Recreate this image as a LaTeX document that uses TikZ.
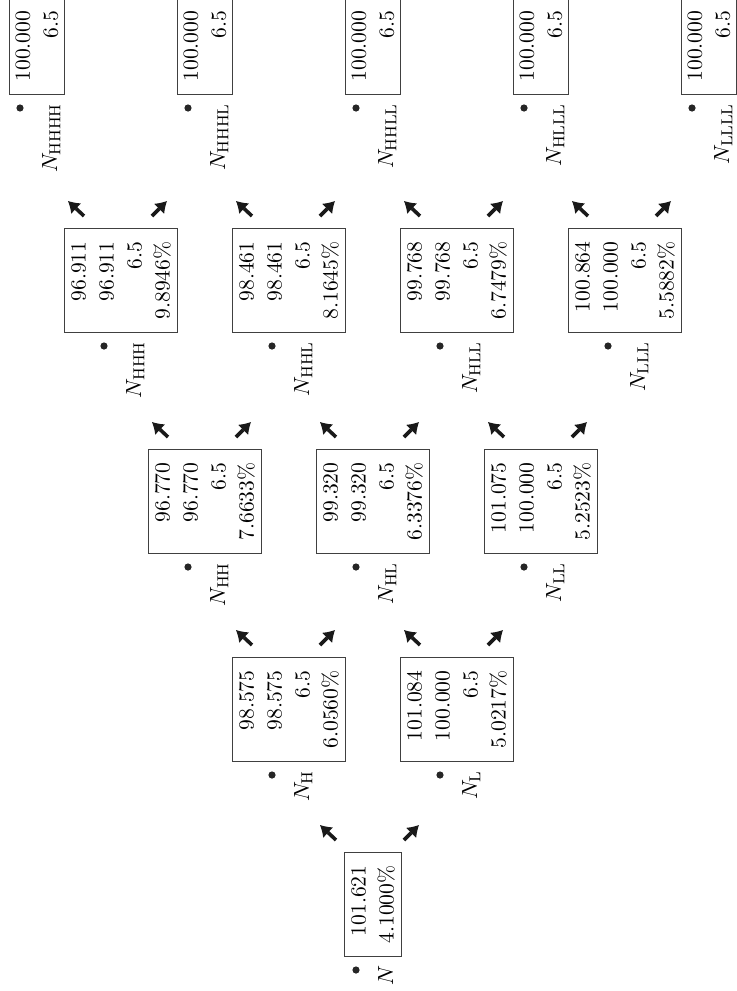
\documentclass[tikz,border=0pt]{standalone}
\usepackage{tikz}
\usetikzlibrary{arrows.meta}
\tikzstyle{val} = [draw=black!75, line width=0.5pt, rotate=90, anchor=west, align=right, inner xsep=6.5pt, inner ysep=3.2pt, font=\fontsize{10.8}{14}\selectfont]
\tikzstyle{lbl} = [rotate=90, anchor=base east, inner sep=0pt, font=\fontsize{10.8}{14}\selectfont]
\tikzstyle{dot} = [circle, fill=black!85, inner sep=0pt, minimum size=3.6pt]
\tikzstyle{br} = [style={-{Latex[length=5.5pt,width=7pt,line width=0pt]},line width=1.8pt,black!90}]

\begin{document}
\begin{tikzpicture}[x=0.5pt,y=-0.5pt]
    \useasboundingbox (0,0) rectangle (736,991);
    \begin{scope}
      \node[val] (n) at (373,957) {101.621\\4.1000\%};
      \node[val] (h) at (289,762) {98.575\\98.575\\6.5\\6.0560\%};
      \node[val] (l) at (457,762) {101.084\\100.000\\6.5\\5.0217\%};
      \node[val] (hh) at (205,554) {96.770\\96.770\\6.5\\7.6633\%};
      \node[val] (hl) at (373,554) {99.320\\99.320\\6.5\\6.3376\%};
      \node[val] (ll) at (541,554) {101.075\\100.000\\6.5\\5.2523\%};
      \node[val] (hhh) at (121,333) {96.911\\96.911\\6.5\\9.8946\%};
      \node[val] (hhl) at (289,333) {98.461\\98.461\\6.5\\8.1645\%};
      \node[val] (hll) at (457,333) {99.768\\99.768\\6.5\\6.7479\%};
      \node[val] (lll) at (625,333) {100.864\\100.000\\6.5\\5.5882\%};
      \node[val] (hhhh) at (37,95) {100.000\\6.5};
      \node[val] (hhhl) at (205,95) {100.000\\6.5};
      \node[val] (hhll) at (373,95) {100.000\\6.5};
      \node[val] (hlll) at (541,95) {100.000\\6.5};
      \node[val] (llll) at (709,95) {100.000\\6.5};

      \node[dot] (n-d) at ([shift={(-17,13)}]n.west) {};
      \node[dot] (h-d) at ([shift={(-17,13)}]h.west) {};
      \node[dot] (l-d) at ([shift={(-17,13)}]l.west) {};
      \node[dot] (hh-d) at ([shift={(-17,13)}]hh.west) {};
      \node[dot] (hl-d) at ([shift={(-17,13)}]hl.west) {};
      \node[dot] (ll-d) at ([shift={(-17,13)}]ll.west) {};
      \node[dot] (hhh-d) at ([shift={(-17,13)}]hhh.west) {};
      \node[dot] (hhl-d) at ([shift={(-17,13)}]hhl.west) {};
      \node[dot] (hll-d) at ([shift={(-17,13)}]hll.west) {};
      \node[dot] (lll-d) at ([shift={(-17,13)}]lll.west) {};
      \node[dot] (hhhh-d) at ([shift={(-17,13)}]hhhh.west) {};
      \node[dot] (hhhl-d) at ([shift={(-17,13)}]hhhl.west) {};
      \node[dot] (hhll-d) at ([shift={(-17,13)}]hhll.west) {};
      \node[dot] (hlll-d) at ([shift={(-17,13)}]hlll.west) {};
      \node[dot] (llll-d) at ([shift={(-17,13)}]llll.west) {};

      \node[lbl] (n-t) at ([shift={(20,8)}]n.west) {$N$};
      \node[lbl] (h-t) at ([shift={(20,8)}]h.west) {$N_{\mathrm{H}}$};
      \node[lbl] (l-t) at ([shift={(20,8)}]l.west) {$N_{\mathrm{L}}$};
      \node[lbl] (hh-t) at ([shift={(20,8)}]hh.west) {$N_{\mathrm{HH}}$};
      \node[lbl] (hl-t) at ([shift={(20,8)}]hl.west) {$N_{\mathrm{HL}}$};
      \node[lbl] (ll-t) at ([shift={(20,8)}]ll.west) {$N_{\mathrm{LL}}$};
      \node[lbl] (hhh-t) at ([shift={(20,8)}]hhh.west) {$N_{\mathrm{HHH}}$};
      \node[lbl] (hhl-t) at ([shift={(20,8)}]hhl.west) {$N_{\mathrm{HHL}}$};
      \node[lbl] (hll-t) at ([shift={(20,8)}]hll.west) {$N_{\mathrm{HLL}}$};
      \node[lbl] (lll-t) at ([shift={(20,8)}]lll.west) {$N_{\mathrm{LLL}}$};
      \node[lbl] (hhhh-t) at ([shift={(20,8)}]hhhh.west) {$N_{\mathrm{HHHH}}$};
      \node[lbl] (hhhl-t) at ([shift={(20,8)}]hhhl.west) {$N_{\mathrm{HHHL}}$};
      \node[lbl] (hhll-t) at ([shift={(20,8)}]hhll.west) {$N_{\mathrm{HHLL}}$};
      \node[lbl] (hlll-t) at ([shift={(20,8)}]hlll.west) {$N_{\mathrm{HLLL}}$};
      \node[lbl] (llll-t) at ([shift={(20,8)}]llll.west) {$N_{\mathrm{LLLL}}$};

      \draw[br] ([shift={(-37,-12)}]n.east) -- ++(-16,-15);
      \draw[br] ([shift={(31,-12)}]n.east) -- ++(15,-15);
      \draw[br] ([shift={(-37,-12)}]h.east) -- ++(-16,-15);
      \draw[br] ([shift={(31,-12)}]h.east) -- ++(15,-15);
      \draw[br] ([shift={(-37,-12)}]l.east) -- ++(-16,-15);
      \draw[br] ([shift={(31,-12)}]l.east) -- ++(15,-15);
      \draw[br] ([shift={(-37,-12)}]hh.east) -- ++(-16,-15);
      \draw[br] ([shift={(31,-12)}]hh.east) -- ++(15,-15);
      \draw[br] ([shift={(-37,-12)}]hl.east) -- ++(-16,-15);
      \draw[br] ([shift={(31,-12)}]hl.east) -- ++(15,-15);
      \draw[br] ([shift={(-37,-12)}]ll.east) -- ++(-16,-15);
      \draw[br] ([shift={(31,-12)}]ll.east) -- ++(15,-15);
      \draw[br] ([shift={(-37,-12)}]hhh.east) -- ++(-16,-15);
      \draw[br] ([shift={(31,-12)}]hhh.east) -- ++(15,-15);
      \draw[br] ([shift={(-37,-12)}]hhl.east) -- ++(-16,-15);
      \draw[br] ([shift={(31,-12)}]hhl.east) -- ++(15,-15);
      \draw[br] ([shift={(-37,-12)}]hll.east) -- ++(-16,-15);
      \draw[br] ([shift={(31,-12)}]hll.east) -- ++(15,-15);
      \draw[br] ([shift={(-37,-12)}]lll.east) -- ++(-16,-15);
      \draw[br] ([shift={(31,-12)}]lll.east) -- ++(15,-15);
    \end{scope}
\end{tikzpicture}
\end{document}
